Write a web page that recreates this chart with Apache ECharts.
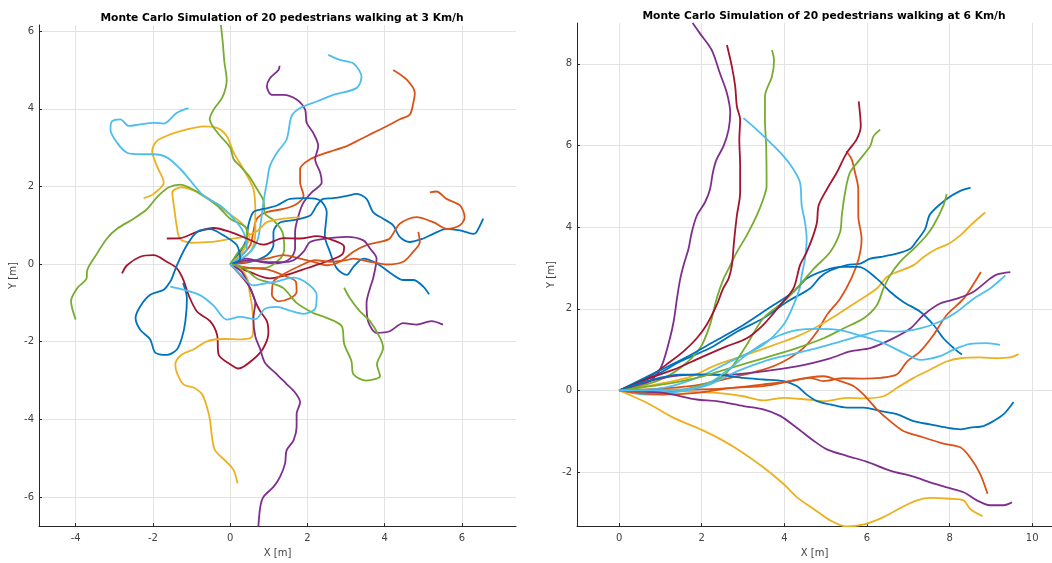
<!DOCTYPE html>
<html><head><meta charset="utf-8">
<script src="https://cdn.jsdelivr.net/npm/echarts@6/dist/echarts.min.js"></script>
<style>html,body{margin:0;padding:0;background:#fff}#c{width:1052px;height:563px}</style>
</head><body><div id="c"></div>
<script>
// ---- colours (MATLAB default order) ----
const COLORS = ['#0072BD','#D95319','#EDB120','#7E2F8E','#77AC30','#4DBEEE','#A2142F'];
// ---- titles / labels ----
const TITLE_LEFT = 'Monte Carlo Simulation of 20 pedestrians walking at 3 Km/h';
const TITLE_RIGHT = 'Monte Carlo Simulation of 20 pedestrians walking at 6 Km/h';
const LEFT_XTICKS = [-4,-2,0,2,4,6];
const LEFT_YTICKS = [-6,-4,-2,0,2,4,6];
const RIGHT_XTICKS = [0,2,4,6,8,10];
const RIGHT_YTICKS = [-2,0,2,4,6,8];

// ---- 3 km/h trajectories (x,y in m) ----
const a01 = [[0,0],[0.52,0.06],[0.95,0.23],[1.12,0.49],[1.12,0.83],[1.29,1.07],[1.64,1.13],[2.07,1.25],[2.24,1.51],[2.41,1.68],[2.67,1.7],[3.02,1.76],[3.28,1.81],[3.53,1.68],[3.7,1.34],[3.96,1.17],[4.22,1.0],[4.39,0.7],[4.65,0.57],[5.0,0.66],[5.26,0.78],[5.6,0.91],[5.95,0.87],[6.29,0.78],[6.38,0.83],[6.55,1.17]];
const a02 = [[0,0],[0.26,0.19],[0.52,0.49],[0.6,0.83],[0.69,1.17],[0.95,1.34],[1.38,1.42],[1.72,1.55],[1.9,1.76],[1.81,2.11],[1.81,2.45],[2.07,2.7],[2.5,2.87],[3.02,3.04],[3.36,3.21],[3.7,3.38],[4.05,3.55],[4.39,3.73],[4.65,3.85],[4.74,4.15],[4.78,4.41],[4.57,4.75],[4.22,5.0]];
const a03 = [[0,0],[0.52,0.32],[0.65,0.83],[0.65,1.34],[0.6,1.94],[0.34,2.45],[0.09,2.87],[-0.09,3.3],[-0.34,3.51],[-0.69,3.55],[-1.12,3.47],[-1.55,3.34],[-1.9,3.17],[-2.02,2.92],[-1.9,2.53],[-1.72,2.1],[-1.98,1.81],[-2.24,1.7]];
const a04 = [[0,0],[0.43,0.14],[0.78,0.06],[1.21,0.02],[1.55,0.14],[1.68,0.4],[1.68,0.83],[1.77,1.25],[1.9,1.59],[2.11,1.85],[2.37,2.1],[2.33,2.36],[2.2,2.7],[2.28,3.04],[2.15,3.38],[1.98,3.64],[1.94,3.98],[1.72,4.24],[1.38,4.36],[1.08,4.36],[0.95,4.58],[1.03,4.79],[1.25,5.0],[1.28,5.11]];
const a05 = [[0,0],[0.3,-0.1],[0.9,-0.1],[1.3,0.15],[1.4,0.4],[1.35,0.83],[1.12,1.13],[0.9,1.3],[0.86,1.64],[0.69,1.94],[0.5,2.25],[0.28,2.5],[0.09,2.7],[0.0,3.0],[-0.3,3.35],[-0.53,3.73],[-0.43,3.98],[-0.2,4.3],[-0.09,4.75],[-0.15,5.2],[-0.19,5.69],[-0.24,6.16]];
const a06 = [[0,0],[0.43,0.23],[0.69,0.57],[0.78,1.0],[0.86,1.59],[0.95,2.1],[1.03,2.53],[1.21,2.87],[1.46,3.21],[1.59,3.81],[1.81,4.02],[2.24,4.19],[2.67,4.36],[3.28,4.54],[3.4,4.83],[3.19,5.17],[2.84,5.26],[2.54,5.39]];
const a07 = [[0,0],[0.34,-0.37],[0.52,-0.62],[0.65,-0.96],[0.78,-1.22],[0.95,-1.47],[0.99,-1.77],[0.86,-2.16],[0.6,-2.45],[0.22,-2.69],[0,-2.58],[-0.3,-2.33],[-0.34,-1.82],[-0.52,-1.47],[-0.86,-1.22],[-1.08,-0.79],[-1.21,-0.41],[-1.38,-0.11],[-1.64,0.06],[-1.98,0.23],[-2.33,0.19],[-2.67,-0.03],[-2.8,-0.24]];
const a08 = [[0,0],[0.26,0.32],[0.43,0.66],[0.47,1.0],[0.6,1.34],[0.86,1.42],[1.21,1.51],[1.55,1.68],[1.98,1.7],[2.33,1.64],[2.5,1.34],[2.45,0.74],[2.58,0.32],[2.76,-0.11],[3.02,-0.28],[3.19,-0.07],[3.45,0.14],[3.79,0.02],[4.22,-0.28],[4.48,-0.41],[4.74,-0.41],[5.0,-0.58],[5.15,-0.78]];
const a09 = [[0,0],[0.43,0.06],[0.95,0.14],[1.38,0.23],[1.81,0.14],[2.15,0.06],[2.5,-0.03],[2.84,0.06],[3.19,0.32],[3.53,0.49],[3.88,0.57],[4.13,0.66],[4.39,1.04],[4.82,1.21],[5.26,1.08],[5.6,0.91],[5.95,1.0],[6.07,1.21],[5.95,1.51],[5.6,1.68],[5.34,1.87],[5.17,1.85]];
const a10 = [[0,0],[0.3,0.3],[0.5,0.7],[0.3,1.05],[-0.1,1.35],[-0.5,1.65],[-0.9,1.88],[-1.25,1.98],[-1.5,1.85],[-1.45,1.45],[-1.38,0.95],[-1.3,0.65],[-1.0,0.55],[-0.5,0.57],[0.0,0.65],[0.35,0.7],[0.7,0.85],[0.95,1.08],[1.38,1.17],[1.81,1.21]];
const a11 = [[0,0],[0.5,0.1],[1.03,0.05],[1.4,0.05],[1.64,0.1],[1.9,0.32],[2.07,0.57],[2.5,0.66],[3.02,0.7],[3.45,0.61],[3.62,0.4],[3.79,0.14],[3.7,-0.37],[3.62,-0.62],[3.53,-1.01],[3.57,-1.47],[3.79,-1.77],[4.13,-1.73],[4.48,-1.52],[4.82,-1.56],[5.21,-1.47],[5.51,-1.56]];
const a12 = [[0,0],[0.2,0.3],[0.43,0.6],[0.43,0.91],[0,1.17],[-0.34,1.51],[-0.78,1.81],[-1.29,2.05],[-1.59,1.98],[-1.9,1.72],[-2.15,1.42],[-2.5,1.17],[-2.93,0.91],[-3.19,0.66],[-3.45,0.27],[-3.7,-0.15],[-3.72,-0.37],[-3.96,-0.62],[-4.12,-0.96],[-4.0,-1.43]];
const a13 = [[0,0],[0.43,0.4],[0.34,0.83],[0.09,1.17],[-0.26,1.51],[-0.69,1.76],[-1.03,2.15],[-1.29,2.45],[-1.64,2.75],[-1.98,2.83],[-2.33,2.83],[-2.67,2.87],[-2.93,3.13],[-3.1,3.47],[-3.06,3.68],[-2.84,3.73],[-2.63,3.56],[-2.33,3.6],[-1.98,3.64],[-1.72,3.62],[-1.38,3.9],[-1.08,4.02]];
const a14 = [[0,0],[0.5,-0.2],[1.03,-0.37],[1.46,-0.28],[2.0,-0.1],[2.58,0.1],[2.9,0.25],[2.95,0.45],[2.67,0.61],[2.24,0.72],[1.81,0.66],[1.38,0.67],[0.86,0.5],[0.43,0.66],[0,0.83],[-0.43,0.93],[-0.86,0.83],[-1.29,0.67],[-1.64,0.66]];
const a15 = [[0,0],[0.26,0.14],[0.17,0.49],[-0.17,0.74],[-0.52,0.9],[-0.86,0.83],[-1.12,0.49],[-1.38,-0.03],[-1.51,-0.37],[-1.55,-0.45],[-1.72,-0.66],[-2.07,-0.79],[-2.33,-1.09],[-2.45,-1.39],[-2.33,-1.69],[-2.07,-1.94],[-1.94,-2.28],[-1.64,-2.34],[-1.38,-2.2],[-1.25,-1.9],[-1.16,-1.47],[-1.12,-0.88],[-1.22,-0.49]];
const a16 = [[0,0],[0.5,-0.1],[1.0,-0.15],[1.4,-0.3],[1.7,-0.45],[1.72,-0.71],[1.55,-0.88],[1.25,-0.96],[1.08,-0.79],[1.12,-0.45],[1.4,-0.25],[1.8,-0.05],[2.2,0.1],[2.58,0.06],[3.0,0.1],[3.19,0.14],[3.62,0.06],[4.05,-0.01],[4.48,0.06],[4.74,0.32],[4.91,0.57],[4.87,0.83]];
const a17 = [[0,0],[0.3,-0.15],[0.47,-0.45],[0.5,-0.71],[0.56,-1.05],[0.6,-1.56],[0.56,-1.88],[0.26,-1.94],[-0.17,-1.93],[-0.6,-1.99],[-0.95,-2.2],[-1.25,-2.33],[-1.42,-2.58],[-1.38,-2.8],[-1.21,-3.1],[-0.95,-3.18],[-0.73,-3.35],[-0.6,-3.69],[-0.52,-4.03],[-0.47,-4.46],[-0.39,-4.8],[-0.09,-5.1],[0.09,-5.31],[0.19,-5.65]];
const a18 = [[0,0],[0.3,-0.2],[0.5,-0.6],[0.65,-1.0],[0.6,-1.4],[0.65,-1.86],[0.78,-2.2],[0.9,-2.54],[1.21,-2.84],[1.46,-3.09],[1.68,-3.31],[1.81,-3.56],[1.72,-3.86],[1.72,-4.2],[1.64,-4.54],[1.46,-4.8],[1.42,-5.14],[1.29,-5.48],[1.12,-5.74],[0.86,-6.0],[0.78,-6.25],[0.73,-6.76]];
const a19 = [[0,0],[0.35,-0.1],[0.69,-0.37],[1.1,-0.5],[1.38,-0.62],[1.72,-1.0],[2.15,-1.26],[2.41,-1.35],[2.89,-1.6],[2.95,-2.05],[3.14,-2.5],[3.19,-2.84],[3.53,-3.0],[3.88,-2.88],[3.8,-2.58],[3.96,-2.16],[3.88,-1.9],[3.62,-1.47],[3.36,-1.22],[3.1,-0.88],[2.95,-0.61]];
const a20 = [[0,0],[0.3,-0.3],[0.6,-0.55],[0.9,-0.5],[1.2,-0.45],[1.64,-0.35],[2.0,-0.5],[2.24,-0.8],[2.2,-1.15],[1.9,-1.28],[1.55,-1.2],[1.21,-1.1],[0.9,-1.15],[0.65,-1.42],[0.26,-1.36],[-0.09,-1.43],[-0.43,-1.07],[-0.78,-0.8],[-1.21,-0.66],[-1.55,-0.58]];

// ---- 6 km/h trajectories (x,y in m) ----
const b01 = [[0,0],[0.91,0.39],[1.48,0.71],[2.2,1.04],[2.85,1.44],[3.49,1.77],[4.06,2.17],[4.62,2.5],[4.87,2.78],[5.11,2.94],[5.51,3.07],[5.84,3.11],[6.08,3.23],[6.32,3.27],[6.72,3.35],[7.05,3.47],[7.21,3.67],[7.41,3.96],[7.53,4.32],[7.93,4.69],[8.26,4.89],[8.51,4.97]];
const b02 = [[0,0],[1.72,0.11],[2.69,0.31],[3.49,0.51],[3.98,0.71],[4.46,1.04],[4.79,1.44],[5.03,1.85],[5.35,2.25],[5.62,2.74],[5.8,3.23],[5.87,3.71],[5.79,4.28],[5.79,4.93],[5.71,5.34],[5.63,5.66],[5.5,5.86]];
const b03 = [[0,0],[1.64,0.31],[2.36,0.63],[3.09,0.88],[3.98,1.2],[4.3,1.32],[4.71,1.52],[5.27,1.85],[5.75,2.17],[6.24,2.5],[6.48,2.78],[6.72,2.9],[7.13,3.07],[7.37,3.27],[7.69,3.47],[7.97,3.59],[8.26,3.8],[8.5,4.04],[8.86,4.36]];
const b04 = [[0,0],[0.59,0.15],[0.91,0.39],[1.07,0.71],[1.23,1.28],[1.32,1.69],[1.4,2.25],[1.48,2.74],[1.56,3.07],[1.68,3.47],[1.76,3.88],[1.88,4.28],[2.08,4.61],[2.2,4.93],[2.27,5.34],[2.36,5.66],[2.53,5.99],[2.65,6.39],[2.69,6.8],[2.61,7.28],[2.44,7.77],[2.24,8.34],[1.96,8.74],[1.78,9.0]];
const b05 = [[0,0],[0.91,0.23],[1.48,0.55],[1.96,1.04],[2.2,1.61],[2.36,2.25],[2.53,2.74],[2.65,2.98],[2.85,3.39],[3.09,3.8],[3.33,4.28],[3.49,4.69],[3.57,5.01],[3.56,5.99],[3.53,6.63],[3.53,7.2],[3.7,7.69],[3.75,8.09],[3.7,8.34]];
const b06 = [[0,0],[1.0,0.05],[1.88,0.31],[2.69,0.71],[3.49,1.12],[3.98,1.61],[4.22,2.09],[4.37,2.5],[4.42,2.82],[4.5,3.23],[4.54,3.71],[4.5,4.12],[4.42,4.53],[4.38,5.09],[4.22,5.42],[3.98,5.74],[3.66,6.07],[3.33,6.39],[3.01,6.67]];
const b07 = [[0,0],[0.75,0.35],[1.15,0.64],[1.56,0.96],[1.88,1.28],[2.12,1.61],[2.36,2.09],[2.52,2.5],[2.65,2.74],[2.73,3.07],[2.78,3.63],[2.85,4.28],[2.93,4.85],[2.93,5.5],[2.91,6.15],[2.93,6.63],[2.85,6.96],[2.81,7.45],[2.73,7.93],[2.61,8.46]];
const b08 = [[0,0],[0.9,0.45],[1.6,0.8],[2.3,1.2],[3.0,1.6],[3.6,2.0],[4.2,2.4],[4.55,2.75],[5.0,2.95],[5.4,3.03],[5.8,3.03],[6.24,2.74],[6.56,2.42],[6.88,2.17],[7.29,1.93],[7.61,1.61],[7.85,1.28],[8.1,1.04],[8.3,0.88]];
const b09 = [[0,0],[1.0,0.02],[2.0,0.03],[2.69,0.06],[3.49,0.15],[4.14,0.23],[4.62,0.31],[4.95,0.23],[5.43,0.3],[5.92,0.29],[6.32,0.31],[6.72,0.39],[6.97,0.71],[7.29,0.96],[7.61,1.36],[7.93,1.85],[8.34,2.25],[8.66,2.74],[8.76,2.9]];
const b10 = [[0,0],[1.48,-0.02],[2.36,-0.06],[3.01,-0.14],[3.49,-0.24],[3.98,-0.18],[4.54,-0.22],[4.95,-0.26],[5.51,-0.18],[5.92,-0.19],[6.4,-0.14],[6.72,0.06],[7.13,0.31],[7.53,0.51],[7.93,0.71],[8.26,0.79],[8.74,0.81],[9.14,0.79],[9.47,0.81],[9.67,0.89]];
const b11 = [[0,0],[1.07,0.31],[1.88,0.39],[2.69,0.39],[3.49,0.47],[4.3,0.59],[5.11,0.79],[5.59,0.96],[6.08,1.04],[6.56,1.24],[7.05,1.52],[7.37,1.85],[7.77,2.13],[8.18,2.25],[8.58,2.42],[8.98,2.74],[9.14,2.84],[9.47,2.9]];
const b12 = [[0,0],[1.0,-0.05],[1.72,0.06],[2.45,0.31],[2.77,0.63],[3.09,1.12],[3.49,1.77],[3.98,2.17],[4.3,2.5],[4.71,2.98],[5.11,3.39],[5.35,3.88],[5.39,4.28],[5.47,4.85],[5.59,5.34],[5.83,5.66],[6.08,5.99],[6.16,6.23],[6.32,6.39]];
const b13 = [[0,0],[0.67,-0.1],[1.48,-0.02],[2.2,0.15],[2.85,0.47],[3.49,0.71],[4.14,0.88],[4.79,1.04],[5.35,1.2],[5.92,1.36],[6.32,1.46],[6.72,1.44],[7.29,1.52],[7.77,1.69],[8.18,1.93],[8.58,2.25],[8.98,2.5],[9.22,2.7],[9.35,2.82]];
const b14 = [[0,0],[0.75,0.31],[1.32,0.51],[1.96,0.8],[2.6,1.08],[3.09,1.28],[3.49,1.61],[3.9,2.09],[4.22,2.5],[4.38,3.07],[4.54,3.39],[4.7,3.8],[4.79,4.12],[4.83,4.53],[5.03,4.93],[5.27,5.34],[5.51,5.82],[5.75,6.15],[5.85,6.47],[5.8,7.08]];
const b15 = [[0,0],[0.67,0.23],[1.48,0.39],[2.28,0.39],[3.01,0.31],[3.49,0.27],[3.98,0.23],[4.3,0.11],[4.54,-0.1],[4.79,-0.26],[5.11,-0.34],[5.51,-0.42],[5.92,-0.42],[6.32,-0.5],[6.72,-0.58],[7.13,-0.75],[7.53,-0.83],[7.93,-0.91],[8.26,-0.95],[8.5,-0.91],[8.82,-0.87],[9.06,-0.75],[9.31,-0.58],[9.55,-0.28]];
const b16 = [[0,0],[1.07,-0.1],[1.88,-0.06],[2.69,0.06],[3.49,0.11],[4.14,0.23],[4.62,0.32],[4.95,0.35],[5.35,0.23],[5.67,0.11],[5.92,-0.1],[6.24,-0.46],[6.56,-0.75],[6.88,-0.99],[7.37,-1.15],[7.85,-1.3],[8.26,-1.39],[8.5,-1.64],[8.74,-2.04],[8.92,-2.53]];
const b17 = [[0,0],[0.67,-0.3],[1.32,-0.67],[1.88,-0.91],[2.45,-1.19],[2.93,-1.48],[3.49,-1.88],[3.98,-2.29],[4.3,-2.61],[4.71,-2.9],[5.11,-3.18],[5.51,-3.33],[5.92,-3.28],[6.4,-3.1],[6.88,-2.84],[7.21,-2.69],[7.53,-2.63],[8.01,-2.65],[8.34,-2.69],[8.5,-2.9],[8.8,-3.08]];
const b18 = [[0,0],[1.07,-0.06],[1.88,-0.22],[2.36,-0.26],[3.01,-0.38],[3.49,-0.46],[3.9,-0.62],[4.3,-0.91],[4.71,-1.23],[5.03,-1.44],[5.51,-1.6],[5.99,-1.74],[6.56,-1.96],[7.13,-2.11],[7.53,-2.25],[7.93,-2.37],[8.34,-2.49],[8.66,-2.69],[8.98,-2.81],[9.31,-2.81],[9.51,-2.74]];
const b19 = [[0,0],[1.07,0.15],[1.88,0.31],[2.69,0.55],[3.49,0.79],[4.3,1.04],[4.95,1.28],[5.43,1.52],[5.92,1.77],[6.24,2.09],[6.4,2.5],[6.56,2.82],[6.8,3.15],[7.13,3.47],[7.41,3.76],[7.61,4.04],[7.85,4.53],[7.93,4.81]];
const b20 = [[0,0],[1.48,0.02],[2.12,0.15],[2.69,0.55],[3.09,0.88],[3.49,1.16],[3.9,1.36],[4.3,1.48],[4.79,1.51],[5.35,1.48],[5.92,1.32],[6.4,1.16],[6.97,0.88],[7.29,0.75],[7.77,0.84],[8.1,1.0],[8.5,1.14],[8.9,1.16],[9.22,1.12]];

const LEFT_PATHS = [a01,a02,a03,a04,a05,a06,a07,a08,a09,a10,a11,a12,a13,a14,a15,a16,a17,a18,a19,a20];
const RIGHT_PATHS = [b01,b02,b03,b04,b05,b06,b07,b08,b09,b10,b11,b12,b13,b14,b15,b16,b17,b18,b19,b20];

const FONT = 'DejaVu Sans';
const AX_COLOR = '#262626';
const LBL_COLOR = '#404040';
const GRID_COLOR = '#e3e3e3';

function xAxisDef(idx, min, max, ticks) {
  return {
    type:'value', gridIndex:idx, min:min, max:max,
    name:'X [m]', nameLocation:'middle', nameGap:19,
    nameTextStyle:{fontFamily:FONT, fontSize:10, color:LBL_COLOR},
    axisLine:{show:true, onZero:false, lineStyle:{color:AX_COLOR, width:1}},
    axisTick:{show:true, inside:true, length:3, customValues:ticks, lineStyle:{color:AX_COLOR}},
    axisLabel:{customValues:ticks, fontFamily:FONT, fontSize:10, color:LBL_COLOR, margin:7},
    splitLine:{show:true, lineStyle:{color:GRID_COLOR, width:1}}
  };
}
function yAxisDef(idx, min, max, ticks) {
  return {
    type:'value', gridIndex:idx, min:min, max:max,
    name:'Y [m]', nameLocation:'middle', nameGap:21,
    nameTextStyle:{fontFamily:FONT, fontSize:10, color:LBL_COLOR},
    axisLine:{show:true, onZero:false, lineStyle:{color:AX_COLOR, width:1}},
    axisTick:{show:true, inside:true, length:3, customValues:ticks, lineStyle:{color:AX_COLOR}},
    axisLabel:{customValues:ticks, fontFamily:FONT, fontSize:10, color:LBL_COLOR, margin:5},
    splitLine:{show:true, lineStyle:{color:GRID_COLOR, width:1}}
  };
}

const series = [];
LEFT_PATHS.forEach((p,i)=>series.push({type:'line', xAxisIndex:0, yAxisIndex:0, data:p, showSymbol:false, smooth:0.3, animation:false,
  lineStyle:{color:COLORS[i%7], width:1.8}, itemStyle:{color:COLORS[i%7]}}));
RIGHT_PATHS.forEach((p,i)=>series.push({type:'line', xAxisIndex:1, yAxisIndex:1, data:p, showSymbol:false, smooth:0.3, animation:false,
  lineStyle:{color:COLORS[i%7], width:1.8}, itemStyle:{color:COLORS[i%7]}}));

const chart = echarts.init(document.getElementById('c'), null, {renderer:'canvas'});
chart.setOption({
  backgroundColor:'#ffffff',
  animation:false,
  title:[
    {text:TITLE_LEFT, left:277, top:8, textAlign:'center', textStyle:{fontFamily:FONT, fontSize:10.7, fontWeight:'bold', color:'#000'}},
    {text:TITLE_RIGHT, left:819, top:6, textAlign:'center', textStyle:{fontFamily:FONT, fontSize:10.7, fontWeight:'bold', color:'#000'}}
  ],
  grid:[
    {left:39, top:25, width:477, height:505},
    {left:577, top:23, width:475, height:506}
  ],
  xAxis:[xAxisDef(0,-4.95,7.4,LEFT_XTICKS), xAxisDef(1,-1.02,10.48,RIGHT_XTICKS)],
  yAxis:[yAxisDef(0,-6.75,6.16,LEFT_YTICKS), yAxisDef(1,-3.32,9.0,RIGHT_YTICKS)],
  series:series
});
</script>
</body></html>
